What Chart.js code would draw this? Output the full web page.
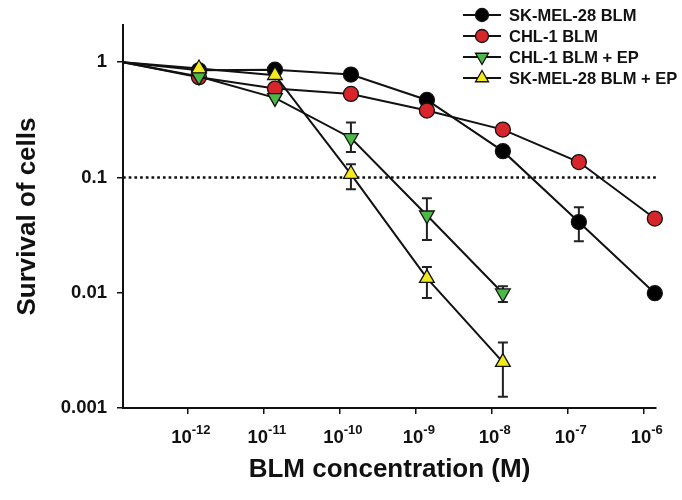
<!DOCTYPE html>
<html>
<head>
<meta charset="utf-8">
<script src="https://cdn.jsdelivr.net/npm/chart.js@4.4.0/dist/chart.umd.min.js"></script>
<style>body{margin:0;background:#fff}</style>
</head>
<body>
<canvas id="myChart" width="682" height="500"></canvas>
<script>
// survival curves vs BLM concentration
const concentrations = [1.4e-13, 1.4e-12, 1.4e-11, 1.4e-10, 1.4e-9, 1.4e-8, 1.4e-7, 1.4e-6];
const skmelBlm   = [1, 0.85, 0.86, 0.78, 0.47, 0.169, 0.041, 0.0099];
const chl1Blm    = [1, 0.74, 0.59, 0.53, 0.38, 0.26, 0.136, 0.044];
const chl1BlmEp  = [1, 0.75, 0.49, 0.22, 0.047, 0.0099];
const skmelBlmEp = [1, 0.88, 0.77, 0.107, 0.0134, 0.0025];

// error bars [low, high], null = none visible
const skmelBlmErr   = [null, null, null, null, null, null, [0.028, 0.055], null];
const chl1BlmErr    = [null, null, null, null, null, null, null, null];
const chl1BlmEpErr  = [null, null, null, [0.166, 0.30], [0.0287, 0.066], [0.0083, 0.0114]];
const skmelBlmEpErr = [null, null, null, [0.079, 0.13], [0.009, 0.0167], [0.00125, 0.0037]];

const seriesNames = ['SK-MEL-28 BLM', 'CHL-1 BLM', 'CHL-1 BLM + EP', 'SK-MEL-28 BLM + EP'];
const xTickExps = [-12, -11, -10, -9, -8, -7, -6];
const yTicks = [0.001, 0.01, 0.1, 1];
const cutoff = 0.1;

const FONT = '"Liberation Sans", Arial, sans-serif';
Chart.defaults.font.family = FONT;

function toPoints(values) {
    return values.map((v, i) => ({ x: concentrations[i], y: v }));
}

const markerRadius = (r) => (c) => c.dataIndex === 0 ? 0 : r;

const series = [
    { label: seriesNames[0], data: toPoints(skmelBlm), err: skmelBlmErr, color: '#000000', style: 'circle', r: 7.5, rot: 0, order: 3 },
    { label: seriesNames[1], data: toPoints(chl1Blm), err: chl1BlmErr, color: '#d7262b', style: 'circle', r: 7.5, rot: 0, order: 2 },
    { label: seriesNames[2], data: toPoints(chl1BlmEp), err: chl1BlmEpErr, color: '#4cb847', style: 'triangle', r: 8.5, rot: 180, order: 1 },
    { label: seriesNames[3], data: toPoints(skmelBlmEp), err: skmelBlmEpErr, color: '#f2ea1c', style: 'triangle', r: 8.5, rot: 0, order: 0 },
];

const datasets = series.map(s => ({
    label: s.label,
    data: s.data,
    showLine: true,
    borderColor: '#111',
    borderWidth: 2,
    pointBackgroundColor: s.color,
    pointBorderColor: '#111',
    pointBorderWidth: 1.3,
    pointStyle: s.style,
    pointRotation: s.rot,
    pointRadius: markerRadius(s.r),
    pointHoverRadius: markerRadius(s.r),
    order: s.order,
    clip: false
}));

// dotted 10% survival line
datasets.push({
    label: 'cutoff',
    data: [{ x: concentrations[0], y: cutoff }, { x: 1.45e-6, y: cutoff }],
    showLine: true,
    borderColor: '#111',
    borderWidth: 2.6,
    borderDash: [2.7, 3],
    pointRadius: 0,
    order: 10
});

const errorBars = {
    id: 'errorBars',
    beforeDatasetsDraw(chart) {
        const ctx = chart.ctx, xs = chart.scales.x, ys = chart.scales.y;
        ctx.save();
        ctx.strokeStyle = '#222';
        ctx.lineWidth = 2;
        series.forEach(s => {
            s.err.forEach((e, i) => {
                if (!e) return;
                const px = xs.getPixelForValue(concentrations[i]);
                const lo = ys.getPixelForValue(e[0]);
                const hi = ys.getPixelForValue(e[1]);
                ctx.beginPath();
                ctx.moveTo(px, lo); ctx.lineTo(px, hi);
                ctx.moveTo(px - 5, lo); ctx.lineTo(px + 5, lo);
                ctx.moveTo(px - 5, hi); ctx.lineTo(px + 5, hi);
                ctx.stroke();
            });
        });
        ctx.restore();
    }
};

const xLabels = {
    id: 'xLabels',
    afterDraw(chart) {
        const ctx = chart.ctx, xs = chart.scales.x;
        ctx.save();
        ctx.fillStyle = '#111';
        ctx.textBaseline = 'alphabetic';
        ctx.textAlign = 'left';
        xTickExps.forEach(e => {
            const px = xs.getPixelForValue(Math.pow(10, e));
            const sup = '-' + Math.abs(e);
            ctx.font = 'bold 18.5px ' + FONT;
            const w1 = ctx.measureText('10').width;
            ctx.font = 'bold 13px ' + FONT;
            const w2 = ctx.measureText(sup).width;
            const x0 = px + 3 - (w1 + w2) / 2;
            ctx.font = 'bold 18.5px ' + FONT;
            ctx.fillText('10', x0, 443);
            ctx.font = 'bold 13px ' + FONT;
            ctx.fillText(sup, x0 + w1, 434);
        });
        ctx.restore();
    }
};

const customLegend = {
    id: 'customLegend',
    afterDraw(chart) {
        const ctx = chart.ctx;
        const rows = [15, 36, 57, 78];
        ctx.save();
        series.forEach((s, i) => {
            const y = rows[i];
            ctx.strokeStyle = '#111';
            ctx.lineWidth = 2;
            ctx.beginPath();
            ctx.moveTo(463, y); ctx.lineTo(501, y);
            ctx.stroke();
            ctx.fillStyle = s.color;
            ctx.strokeStyle = '#111';
            ctx.lineWidth = 1.3;
            Chart.helpers.drawPoint(ctx, { pointStyle: s.style, radius: s.style === 'circle' ? 6.5 : 7.5, rotation: s.rot, borderWidth: 1.3 }, 482, y);
            ctx.fillStyle = '#111';
            ctx.font = 'bold 16.5px ' + FONT;
            ctx.textBaseline = 'middle';
            ctx.textAlign = 'left';
            ctx.fillText(s.label, 509, y + 1);
        });
        ctx.restore();
    }
};

const ctx = document.getElementById('myChart').getContext('2d');
const myChart = new Chart(ctx, {
    type: 'scatter',
    data: { datasets: datasets },
    plugins: [errorBars, xLabels, customLegend],
    options: {
        responsive: false,
        animation: false,
        layout: { padding: { top: 25, right: 26, left: 0, bottom: 0 } },
        plugins: { legend: { display: false }, tooltip: { enabled: false } },
        scales: {
            x: {
                type: 'logarithmic',
                min: 1.4e-13,
                max: 1.45e-6,
                afterBuildTicks: (scale) => { scale.ticks = xTickExps.map(e => ({ value: Math.pow(10, e) })); },
                afterFit: (scale) => { scale.height = 92; },
                ticks: { color: 'rgba(0,0,0,0)', callback: () => '10' },
                grid: { drawOnChartArea: false, drawTicks: true, tickLength: 6, color: '#111', lineWidth: 1.5 },
                border: { color: '#111', width: 2 },
                title: {
                    display: true,
                    text: 'BLM concentration (M)',
                    color: '#111',
                    font: { size: 26, weight: 'bold' },
                    padding: { top: 0, bottom: 15 }
                }
            },
            y: {
                type: 'logarithmic',
                min: 0.001,
                max: 2.1,
                afterBuildTicks: (scale) => { scale.ticks = yTicks.map(v => ({ value: v })); },
                afterFit: (scale) => { scale.width = 123; },
                ticks: {
                    color: '#111',
                    padding: 10,
                    font: { size: 18.5, weight: 'bold' },
                    callback: (v) => String(v)
                },
                grid: { drawOnChartArea: false, drawTicks: true, tickLength: 6, color: '#111', lineWidth: 1.5 },
                border: { color: '#111', width: 2 },
                title: {
                    display: true,
                    text: 'Survival of cells',
                    color: '#111',
                    font: { size: 26, weight: 'bold' },
                    padding: { top: 12, bottom: 0 }
                }
            }
        }
    }
});
</script>
</body>
</html>
